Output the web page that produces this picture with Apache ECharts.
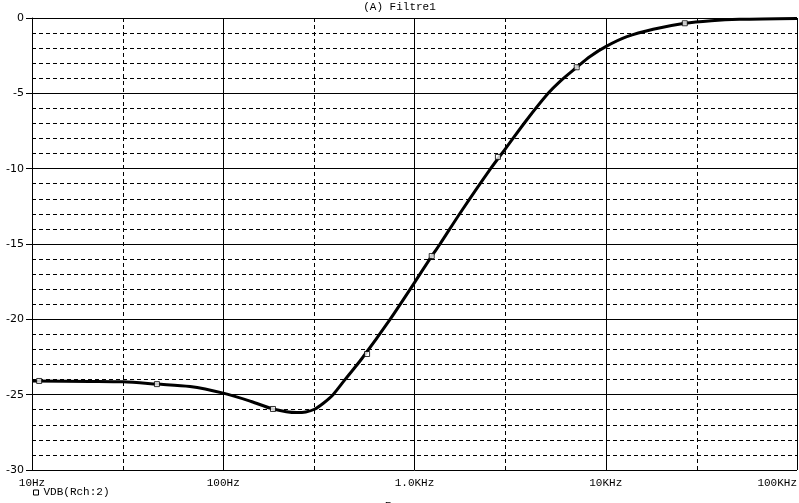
<!DOCTYPE html>
<html>
<head>
<meta charset="utf-8">
<script src="https://cdn.jsdelivr.net/npm/echarts@6/dist/echarts.min.js"></script>
<style>html,body{margin:0;padding:0;background:#fff}#c{width:799px;height:503px}</style>
</head>
<body>
<div id="c"></div>
<script>
// ---- data ----
const freqHz = [10, 20, 30, 45, 67, 100, 140, 182, 242, 270, 300, 335, 375, 433, 531, 745, 1000, 1230, 1360, 1730, 2500, 3000, 3860, 5000, 5770, 7050, 8280, 10000, 12900, 17700, 25900, 35600, 50000, 100000];
const vdb = [-24.09, -24.12, -24.15, -24.3, -24.46, -24.9, -25.45, -25.95, -26.19, -26.15, -25.97, -25.55, -25.0, -24.0, -22.6, -20.0, -17.56, -15.8, -15.0, -12.96, -10.0, -8.65, -6.77, -5.0, -4.2, -3.27, -2.55, -1.9, -1.24, -0.75, -0.35, -0.18, -0.09, -0.03];
const markerHz = [10.9, 45, 182, 565, 1230, 2730, 7050, 25900];
const markerDb = [-24.09, -24.3, -25.95, -22.3, -15.8, -9.22, -3.27, -0.35];
const xTickValues = [10, 100, 1000, 10000, 100000];
const xTickLabels = ['10Hz', '100Hz', '1.0KHz', '10KHz', '100KHz'];
const xDashedGrid = [30, 300, 3000, 30000];
const seriesName = 'VDB(Rch:2)';
const titleText = '(A) Filtre1';
const xAxisName = 'Frequency';

const mono = 'Liberation Mono';
const chart = echarts.init(document.getElementById('c'), null, {renderer: 'canvas'});
chart.setOption({
  animation: false,
  backgroundColor: '#fff',
  title: {
    text: titleText, left: 'center', top: -3,
    textStyle: {fontFamily: mono, fontSize: 11, fontWeight: 'normal', color: '#000'}
  },
  legend: {
    data: [{name: seriesName, icon: 'rect', itemStyle: {color: '#fff', borderColor: '#000', borderWidth: 1}}],
    left: 33, top: 487, padding: 0, itemWidth: 5, itemHeight: 5, itemGap: 4,
    textStyle: {fontFamily: mono, fontSize: 11, color: '#000', padding: [0, 0, 0, 0]}
  },
  grid: {left: 32, right: 2, top: 18, bottom: 33, containLabel: false, outerBoundsMode: 'none'},
  xAxis: {
    type: 'log', logBase: 10, min: 10, max: 100000,
    name: xAxisName, nameLocation: 'middle', nameGap: 31,
    nameTextStyle: {fontFamily: mono, fontSize: 11, color: '#000'},
    axisLine: {show: true, lineStyle: {color: '#000', width: 1}},
    axisTick: {show: true, length: 3, lineStyle: {color: '#000'}},
    axisLabel: {
      fontFamily: mono, fontSize: 11, color: '#000', margin: 8,
      showMinLabel: true, showMaxLabel: true, alignMaxLabel: 'right',
      formatter: function (v) {
        for (let i = 0; i < xTickValues.length; i++) {
          if (Math.abs(v - xTickValues[i]) / xTickValues[i] < 1e-6) return xTickLabels[i];
        }
        return '';
      }
    },
    splitLine: {show: true, lineStyle: {color: '#000', width: 1, type: 'solid'}}
  },
  yAxis: {
    type: 'value', min: -30, max: 0, interval: 5,
    axisLine: {show: true, lineStyle: {color: '#000', width: 1}},
    axisTick: {show: true, length: 6, lineStyle: {color: '#000'}},
    axisLabel: {fontFamily: 'DejaVu Sans', fontSize: 11, color: '#000', margin: 8},
    splitLine: {show: true, lineStyle: {color: '#000', width: 1}},
    minorTick: {show: false, splitNumber: 5},
    minorSplitLine: {show: true, lineStyle: {color: '#000', width: 1, type: [4, 3]}}
  },
  series: [
    {
      name: 'vgrid', type: 'line', data: [], z: 1, silent: true,
      markLine: {
        silent: true, symbol: 'none', animation: false,
        label: {show: false},
        lineStyle: {color: '#000', width: 1, type: [4, 3]},
        data: xDashedGrid.map(v => ({xAxis: v}))
      }
    },
    {
      name: seriesName, type: 'line', z: 3, smooth: 0.3,
      showSymbol: false, symbol: 'none',
      lineStyle: {color: '#000', width: 3},
      itemStyle: {color: '#000'},
      data: freqHz.map((f, i) => [f, vdb[i]])
    },
    {
      name: 'markers', type: 'scatter', z: 4, symbol: 'rect', symbolSize: 5,
      itemStyle: {color: '#fff', borderColor: '#000', borderWidth: 1},
      data: markerHz.map((f, i) => [f, markerDb[i]])
    }
  ]
});
</script>
</body>
</html>
